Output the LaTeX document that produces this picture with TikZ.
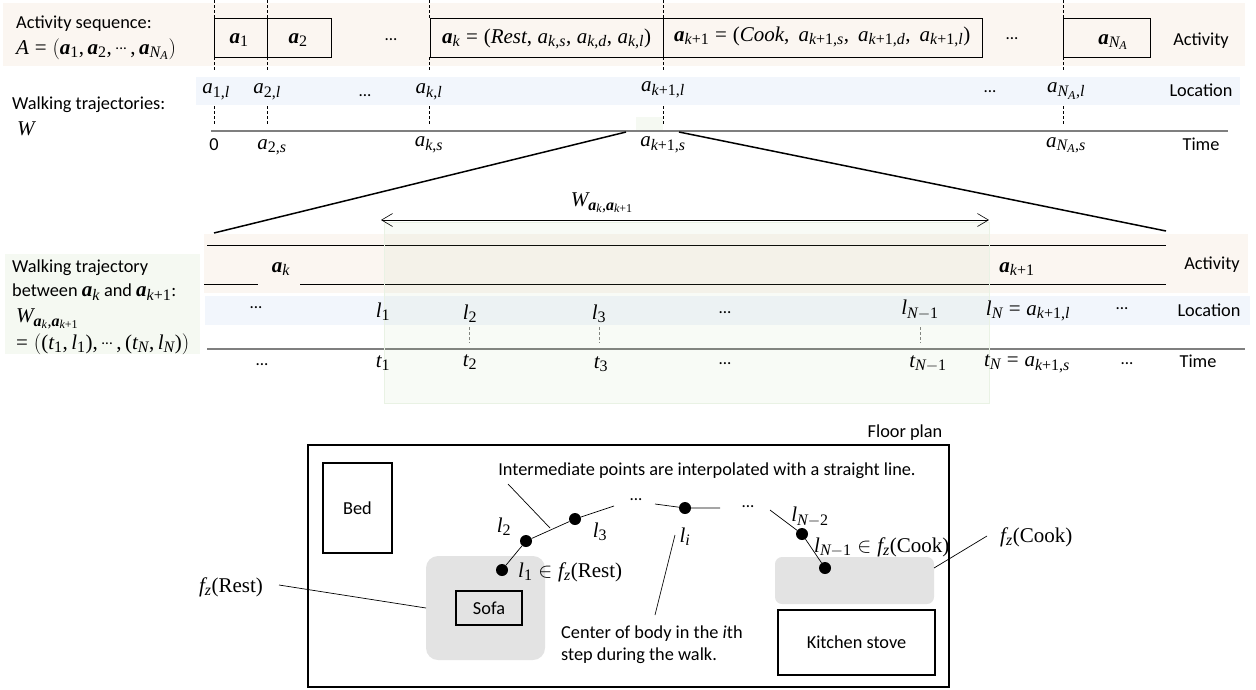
\documentclass[tikz,border=0pt]{standalone}
\usepackage{fix-cm}
\usepackage{amsmath}
\usepackage[no-math]{fontspec}
\usetikzlibrary{arrows.meta}
\setmainfont{Carlito}
\newfontfamily\lsf{Liberation Serif}[NFSSFamily=LibSer]
\DeclareSymbolFont{libit}{TU}{LibSer}{m}{it}
\DeclareSymbolFont{libup}{TU}{LibSer}{m}{n}
\makeatletter
\@tfor\ch:=abcdefghijklmnopqrstuvwxyzABCDEFGHIJKLMNOPQRSTUVWXYZ\do{%
  \expandafter\DeclareMathSymbol\expandafter{\ch}{\mathalpha}{libit}{\expandafter`\ch}}
\@tfor\ch:=0123456789\do{%
  \expandafter\DeclareMathSymbol\expandafter{\ch}{\mathalpha}{libup}{\expandafter`\ch}}
\makeatother
\DeclareMathSymbol{(}{\mathopen}{libup}{`(}
\DeclareMathSymbol{)}{\mathclose}{libup}{`)}
\DeclareMathSymbol{,}{\mathpunct}{libup}{`,}
\DeclareMathSymbol{=}{\mathrel}{libup}{`=}
\DeclareMathSymbol{+}{\mathbin}{libup}{`+}
\DeclareMathSizes{21}{21}{16}{12}
\newcommand{\ba}{\text{\lsf\bfseries\itshape a}}
\newcommand{\mi}[1]{\text{\lsf\itshape #1}}
\newcommand{\mr}[1]{\text{\lsf #1}}
\newcommand{\tc}{\mathinner{\text{\raisebox{0.22em}{\fontsize{15}{18}\selectfont ...}}}}
\newcommand{\tdots}{{\fontsize{17}{20}\selectfont ...}}
\definecolor{actband}{HTML}{FBF6F1}
\definecolor{locband}{HTML}{F2F6FC}
\definecolor{grnband}{HTML}{F5F9F2}
\definecolor{grnedge}{HTML}{E9F2E4}
\definecolor{grnveil}{HTML}{A8CC90}
\definecolor{zonegray}{HTML}{E3E3E3}
\definecolor{timeline}{HTML}{7F7F7F}
\newcommand{\mfs}{\fontsize{21}{24}\selectfont}
\tikzset{
  lab/.style={inner sep=0pt,font=\fontsize{18.3}{22}\selectfont},
  mlab/.style={inner sep=0pt,font=\mfs},
  leftlab/.style={lab,anchor=west},
  mleft/.style={mlab,anchor=west},
  ablock/.style={draw=black,line width=0.9pt,anchor=north west,inner sep=0pt},
  fixture/.style={draw=black,line width=1.3pt,inner sep=0pt,font=\fontsize{18.3}{22}\selectfont},
  guide/.style={black,line width=0.6pt,dash pattern=on 3pt off 2pt},
  axis/.style={timeline,line width=1.3pt},
  bar/.style={black,line width=0.9pt},
  zoomline/.style={black,line width=1.5pt},
  thin leader/.style={black,line width=0.7pt},
  dot/.style={circle,fill=black,inner sep=0pt,minimum size=12pt},
}
\begin{document}
\begin{tikzpicture}[x=1pt,y=-1pt]
\useasboundingbox (0,0) rectangle (1256,689);
% bands
\fill[actband] (3,3) rectangle (1245,66);
\fill[locband] (196,77) rectangle (1240,105);
\fill[grnband] (636,117) rectangle (663,131);
\fill[actband] (204,234) rectangle (1248,293);
\fill[locband] (205,296) rectangle (1250,325);
\fill[grnband] (5,254) rectangle (200,354);
% top row
\foreach \x in {214,267,429,663,1063}{
  \draw[guide] (\x,0) -- (\x,18);
  \draw[guide] (\x,57) -- (\x,70);
  \draw[guide] (\x,106) -- (\x,124);
}
\node[ablock,minimum width=53pt,minimum height=39pt] (b1) at (214,18) {};
\node[ablock,minimum width=64pt,minimum height=39pt] (b2) at (267,18) {};
\node[ablock,minimum width=233pt,minimum height=39pt] (bk) at (430,18) {};
\node[ablock,minimum width=319pt,minimum height=39pt] (bk1) at (663,18) {};
\node[ablock,minimum width=87pt,minimum height=39pt] (bn) at (1063,18) {};
\node[mlab] (ta1) at (239,40) {$\ba_1$};
\node[mlab] (ta2) at (298,40) {$\ba_2$};
\node[lab] (td1) at (391,40) {\tdots};
\node[mleft] (tak) at (442,39) {\thinmuskip=4.7mu $\ba_k=(\mi{Rest},a_{k,s},a_{k,d},a_{k,l})$};
\node[mleft] (tak1) at (674,37) {\thinmuskip=7.8mu $\ba_{k+1}=(\mi{Cook},a_{k+1,s},a_{k+1,d},a_{k+1,l})$};
\node[lab] (td2) at (1012,39) {\tdots};
\node[mlab] (tan) at (1113,42) {$\ba_{N_A}$};
\node[lab] (tact) at (1201,41) {Activity};
\node[leftlab] (h1) at (16,24) {Activity sequence:};
\node[mleft] (h2) at (16,49) {$A=\bigl(\ba_1,\ba_2,\tc,\ba_{N_A}\bigr)$};
\node[leftlab] (h3) at (12,105) {Walking trajectories:};
\node[mleft] (h4) at (17,129) {$W$};
% location row
\node[mlab] (l1) at (216,92) {$a_{1,l}$};
\node[mlab] (l2) at (267,92) {$a_{2,l}$};
\node[lab] (l3) at (365,96) {\tdots};
\node[mlab] (l4) at (429,92) {$a_{k,l}$};
\node[mlab] (l5) at (663,90) {$a_{k+1,l}$};
\node[lab] (l6) at (990,92) {\tdots};
\node[mlab] (l7) at (1066,91) {$a_{N_A,l}$};
\node[lab] (tloc) at (1201,90) {Location};
% time row
\draw[axis] (211,131) -- (1228,131);
\node[lab] (s1) at (214,145) {0};
\node[mlab] (s2) at (272,147) {$a_{2,s}$};
\node[mlab] (s3) at (429,145) {$a_{k,s}$};
\node[mlab] (s4) at (663,145) {$a_{k+1,s}$};
\node[mlab] (s5) at (1066,145) {$a_{N_A,s}$};
\node[lab] (ttime) at (1201,144) {Time};
% zoom lines
\draw[zoomline] (626,132) -- (214,233);
\draw[zoomline] (679,132) -- (1166,231);
% zoomed section
\draw[bar] (207,245) -- (1166,245);
\draw[bar] (204,284) -- (258,284);
\draw[bar] (300,284) -- (1166,284);
\draw[bar] (989,245) -- (989,284);
\draw[axis] (207,349) -- (1245,349);
\foreach \x in {469,599,920}{\draw[guide,timeline] (\x,327) -- (\x,343);}
% green overlay
\fill[grnveil,opacity=0.08] (384,222) rectangle (989,403);
\draw[grnedge,line width=0.8pt] (384,222) rectangle (989,403);
\draw[black,line width=0.6pt,{Straight Barb[length=11pt,width=13pt]}-{Straight Barb[length=11pt,width=13pt]}] (381,220) -- (989,220);
\node[mlab] (wlab) at (602,203) {$W_{\ba_k,\ba_{k+1}}$};
\node[mlab] (za) at (281,269) {$\ba_k$};
\node[mlab] (zb) at (1017,269) {$\ba_{k+1}$};
\node[lab] (zact) at (1212,265) {Activity};
\node[lab] (zl0) at (256,308) {\tdots};
\node[mlab] (zl1) at (383,312) {$l_1$};
\node[mlab] (zl2) at (470,314) {$l_2$};
\node[mlab] (zl3) at (599,314) {$l_3$};
\node[lab] (zl4) at (725,313) {\tdots};
\node[mlab] (zl5) at (920,310) {$l_{N-1}$};
\node[mlab] (zl6) at (1028,311) {$l_N=a_{k+1,l}$};
\node[lab] (zl7) at (1122,309) {\tdots};
\node[lab] (zloc) at (1209,310) {Location};
\node[lab] (zt0) at (262,365) {\tdots};
\node[mlab] (zt1) at (383,363) {$t_1$};
\node[mlab] (zt2) at (470,362) {$t_2$};
\node[mlab] (zt3) at (601,364) {$t_3$};
\node[lab] (zt4) at (725,364) {\tdots};
\node[mlab] (zt5) at (928,364) {$t_{N-1}$};
\node[mlab] (zt6) at (1027,364) {$t_N=a_{k+1,s}$};
\node[lab] (zt7) at (1127,364) {\tdots};
\node[lab] (ztime) at (1198,361) {Time};
\node[leftlab] (p1) at (12,268) {Walking trajectory};
\node[leftlab] (p2) at (12,292) {between {\mfs$\ba_k$} and {\mfs$\ba_{k+1}$}:};
\node[mleft] (p3) at (16,319) {$W_{\ba_k,\ba_{k+1}}$};
\node[mleft] (p4) at (16,344) {$=\bigl((t_1,l_1),\tc,(t_N,l_N)\bigr)$};
% floor plan
\draw[black,line width=1.3pt] (308,445) rectangle (949,687);
\node[lab] (fp) at (905,433) {Floor plan};
\fill[zonegray,rounded corners=12pt] (426,556) rectangle (545,660);
\fill[zonegray,rounded corners=7pt] (775,557) rectangle (934,604);
\node[fixture,minimum width=69pt,minimum height=90pt] (bed) at (357.5,508) {Bed};
\node[fixture,minimum width=66pt,minimum height=34pt] (sofa) at (489,608) {Sofa};
\node[fixture,minimum width=157pt,minimum height=65pt] (stove) at (856.5,642.5) {Kitchen stove};
\node[dot] (d1) at (502,570) {};
\node[dot] (d2) at (526,541) {};
\node[dot] (d3) at (575,519) {};
\node[dot] (di) at (685,508) {};
\node[dot] (dn2) at (802,534) {};
\node[dot] (dn1) at (825,568) {};
\coordinate (e3) at (614,506);
\coordinate (ei0) at (655,504);
\coordinate (ei1) at (720,508);
\coordinate (en) at (770,510);
\draw[thin leader] (d1) -- (d2) -- (d3) -- (e3);
\draw[thin leader] (ei0) -- (di) -- (ei1);
\draw[thin leader] (en) -- (dn2) -- (dn1);
\node[lab] (de1) at (636,500) {\tdots};
\node[lab] (de2) at (748,507) {\tdots};
\node[lab] (inter) at (707,471) {Intermediate points are interpolated with a straight line.};
\coordinate (li0) at (508,484);
\coordinate (li1) at (550,528);
\draw[thin leader] (li0) -- (li1);
\node[mlab] (fl2) at (504,527) {$l_2$};
\node[mlab] (fl3) at (600,532) {$l_3$};
\node[mlab] (fli) at (685,537) {$l_i$};
\node[mleft] (fl1) at (518,572) {$l_1\in f_z(\mr{Rest})$};
\node[mlab] (fln2) at (810,517) {$l_{N-2}$};
\node[mleft] (fln1) at (814,547) {$l_{N-1}\in f_z(\mr{Cook})$};
\coordinate (c0) at (675,535);
\coordinate (c1) at (655,615);
\draw[thin leader] (c0) -- (c1);
\node[leftlab] (cen1) at (561,634) {Center of body in the \textit{i}th};
\node[leftlab] (cen2) at (561,656) {step during the walk.};
\node[mlab] (fr) at (231,587) {$f_z(\mr{Rest})$};
\coordinate (fr0) at (279,585);
\coordinate (fr1) at (426,608);
\draw[thin leader] (fr0) -- (fr1);
\node[mleft] (fc) at (1000,537) {$f_z(\mr{Cook})$};
\coordinate (fc0) at (987,536);
\coordinate (fc1) at (934,568);
\draw[thin leader] (fc0) -- (fc1);
\end{tikzpicture}
\end{document}
